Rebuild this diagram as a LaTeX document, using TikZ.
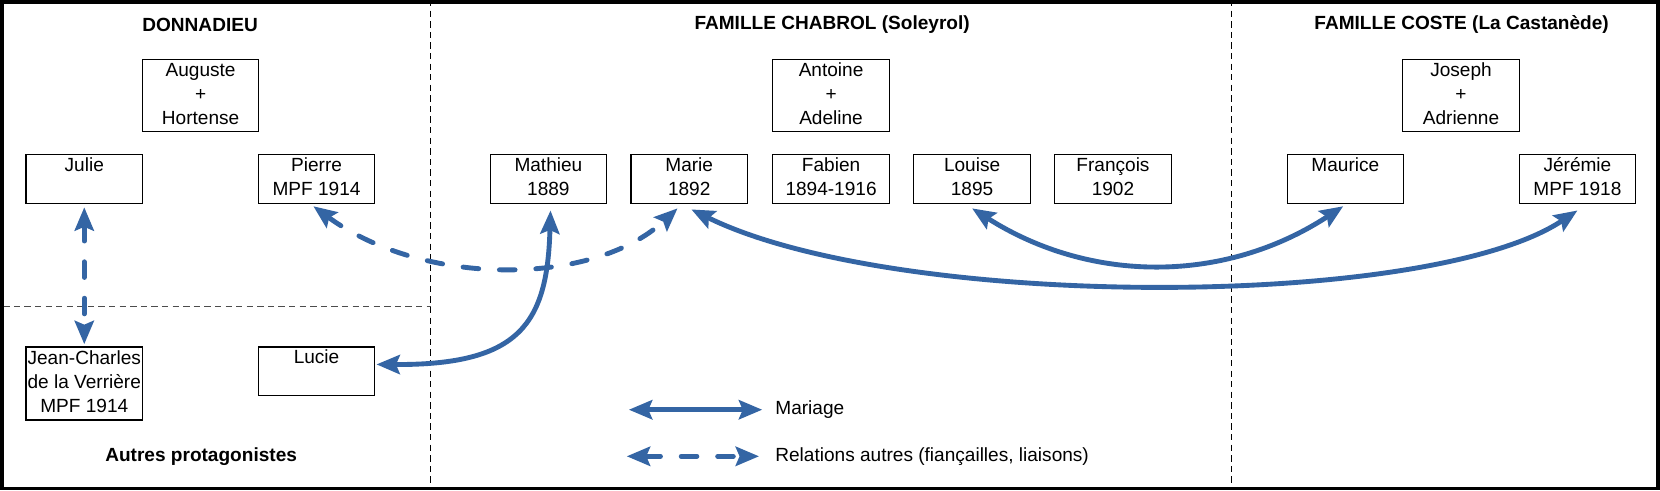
\documentclass[tikz,border=0pt]{standalone}
\usepackage{fontspec}
\setmainfont{Liberation Sans}
\usetikzlibrary{arrows.meta,calc}
\definecolor{lblue}{RGB}{52,101,164}
\newcommand\ls{\rule[-2.3pt]{0pt}{9pt}}
\begin{document}
\begin{tikzpicture}[x=0.5pt,y=-0.5pt,
  every node/.style={font=\fontsize{9pt}{11.3pt}\selectfont},
  person/.style={draw=black, fill=white, line width=0.6pt, minimum width=55pt, minimum height=23pt, inner sep=0pt, align=center},
  couple/.style={person, minimum height=34.2pt},
  title/.style={font=\fontsize{9pt}{11.3pt}\selectfont\bfseries},
  sep/.style={line width=0.5pt, dash pattern=on 3pt off 2pt},
  rel/.style={draw=lblue, line width=2.3pt, {Stealth[length=11pt,width=9pt,inset=1.8pt]}-{Stealth[length=11pt,width=9pt,inset=1.8pt]}},
  relother/.style={rel, line cap=round, dash pattern=on 7.4pt off 9.8pt}]
\useasboundingbox (0,0) rectangle (1568,463);
\fill[white] (0,0) rectangle (1568,463);
% separators
\draw[sep] (407,0) -- (407,463);
\draw[sep] (1163.4,0) -- (1163.4,463);
\draw[sep, black!70] (3,289.7) -- (407,289.7);
% titles
\node[title] (t1) at (189,23.5) {DONNADIEU};
\node[title] (t2) at (786,23.5) {FAMILLE CHABROL (Soleyrol)};
\node[title] (t3) at (1380.6,23.5) {FAMILLE COSTE (La Castanède)};
\node[title] (t4) at (190,431) {Autres protagonistes};
% boxes
\node[couple] (auguste) at (189.5,90.25) {\ls Auguste\\\ls +\\\ls Hortense};
\node[person] (julie) at (79.6,169.2) {\ls Julie\\\ls};
\node[person] (pierre) at (299,169.2) {\ls Pierre\\\ls MPF 1914};
\node[person, minimum height=34.5pt] (jc) at (79.6,362.2) {\ls Jean-Charles\\\ls de la Verrière\\\ls MPF 1914};
\node[person] (lucie) at (299,350.7) {\ls Lucie\\\ls};
\node[couple] (antoine) at (785,90.25) {\ls Antoine\\\ls +\\\ls Adeline};
\node[person] (mathieu) at (518,169.2) {\ls Mathieu\\\ls 1889};
\node[person] (marie) at (651,169.2) {\ls Marie\\\ls 1892};
\node[person] (fabien) at (785,169.2) {\ls Fabien\\\ls 1894-1916};
\node[person] (louise) at (918.2,169.2) {\ls Louise\\\ls 1895};
\node[person] (francois) at (1051.3,169.2) {\ls François\\\ls 1902};
\node[couple] (joseph) at (1380,90.25) {\ls Joseph\\\ls +\\\ls Adrienne};
\node[person] (maurice) at (1270.8,169.2) {\ls Maurice\\\ls};
\node[person] (jeremie) at (1490,169.2) {\ls Jérémie\\\ls MPF 1918};
% relations
\draw[relother] ($(julie.south)+(0,3)$) -- ($(jc.north)+(0,-2)$);
\draw[relother] ($(pierre.south)+(-3,2)$) .. controls (400,271) and (560,271) .. ($(marie.south)+(-11,4)$);
\draw[rel] ($(lucie.east)+(1,-6.5)$) .. controls (492,345) and (517,305) .. ($(mathieu.south)+(2,6)$);
\draw[rel] ($(marie.south)+(2,5)$) .. controls (846,293) and (1349,293) .. ($(jeremie.south)+(0,6)$);
\draw[rel] ($(louise.south)+(0,4)$) .. controls (1030,268) and (1157,268) .. ($(maurice.south)+(-2,2)$);
% legend
\coordinate (m1) at (594,387);
\coordinate (m2) at (720,387);
\coordinate (r1) at (592,431);
\coordinate (r2) at (717,431);
\draw[rel] (m1) -- (m2);
\draw[relother] (r1) -- (r2);
\node[anchor=west, inner sep=0pt] (lm) at (732,387) {Mariage};
\node[anchor=west, inner sep=0pt] (lr) at (732,431) {Relations autres (fiançailles, liaisons)};
% frame
\draw[line width=1.7pt] (1.7,1.7) rectangle (1566.3,461.3);
\end{tikzpicture}
\end{document}
